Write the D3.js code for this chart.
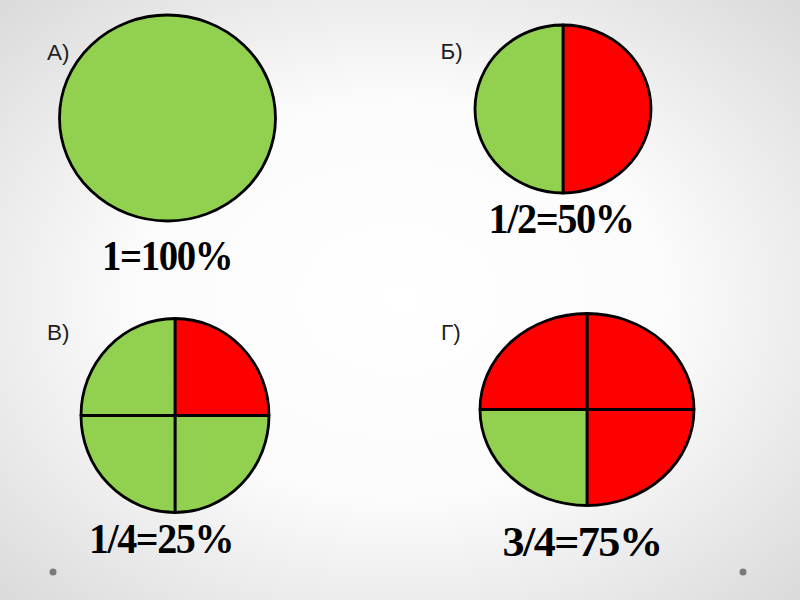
<!DOCTYPE html>
<meta charset="utf-8">
<script src="https://d3js.org/d3.v7.min.js"></script>
<style>
    body { margin: 0; }
    svg { display: block; }
</style>
<body></body>
<script>
    // four panels, each a pie split into equal parts
    var letters = ["А)", "Б)", "В)", "Г)"],
        captions = ["1=100%", "1/2=50%", "1/4=25%", "3/4=75%"],
        // parts clockwise from 12 o'clock, 1 = shaded (red), 0 = not shaded (green)
        partsA = [0],
        partsB = [1, 0],
        partsC = [1, 0, 0, 0],
        partsD = [1, 1, 0, 1];

    var colors = { 0: "#92d050", 1: "#ff0000" };

    // layout: ellipse centre, radii, letter and caption position
    var panels = [
        { parts: partsA, cx: 167.5, cy: 118, rx: 108, ry: 103, lx: 47, ly: 59.5, tx: 167, ty: 270, tw: 130 },
        { parts: partsB, cx: 563, cy: 109, rx: 88, ry: 84, lx: 440.5, ly: 58.5, tx: 561, ty: 233, tw: 145 },
        { parts: partsC, cx: 175, cy: 415.5, rx: 94, ry: 97, lx: 47, ly: 339.5, tx: 161, ty: 553, tw: 144 },
        { parts: partsD, cx: 587, cy: 409.5, rx: 107, ry: 96, lx: 441, ly: 340, tx: 582, ty: 556, tw: 159 }
    ];

    var width = 800, height = 600;
    var svg = d3.select("body").append("svg").attr("width", width).attr("height", height);

    var grad = svg.append("defs").append("radialGradient").attr("id", "bg")
        .attr("cx", "50%").attr("cy", "50%").attr("r", "75%");
    grad.append("stop").attr("offset", "0%").attr("stop-color", "#ffffff");
    grad.append("stop").attr("offset", "45%").attr("stop-color", "#fbfbfb");
    grad.append("stop").attr("offset", "100%").attr("stop-color", "#d6d6d6");
    svg.append("rect").attr("width", width).attr("height", height).attr("fill", "url(#bg)");

    svg.selectAll("circle.dot").data([53, 743]).enter().append("circle")
        .attr("class", "dot").attr("cx", function(d) { return d; }).attr("cy", 572)
        .attr("r", 3.5).attr("fill", "#7a7a7a");

    var pie = d3.pie().sort(null).value(function() { return 1; }),
        arc = d3.arc().innerRadius(0).outerRadius(100);

    panels.forEach(function(p, i) {
        var g = svg.append("g")
            .attr("transform", "translate(" + p.cx + "," + p.cy + ") scale(" + (p.rx / 100) + "," + (p.ry / 100) + ")");
        g.selectAll("path").data(pie(p.parts)).enter().append("path")
            .attr("d", arc)
            .attr("fill", function(d) { return colors[d.data]; })
            .attr("stroke", "#000")
            .attr("stroke-width", 2.8)
            .attr("stroke-linejoin", "round")
            .attr("vector-effect", "non-scaling-stroke");

        svg.append("text").attr("x", p.lx).attr("y", p.ly)
            .attr("font-family", "Liberation Sans, Arial, sans-serif")
            .attr("font-size", 22.5).attr("fill", "#1e1e1e")
            .text(letters[i]);

        svg.append("text").attr("x", p.tx).attr("y", p.ty)
            .attr("text-anchor", "middle")
            .attr("font-family", "Liberation Serif, Times New Roman, serif")
            .attr("font-weight", "bold").attr("font-size", 42).attr("fill", "#000")
            .attr("letter-spacing", -1.5)
            .attr("textLength", p.tw).attr("lengthAdjust", "spacingAndGlyphs")
            .text(captions[i]);
    });
</script>
